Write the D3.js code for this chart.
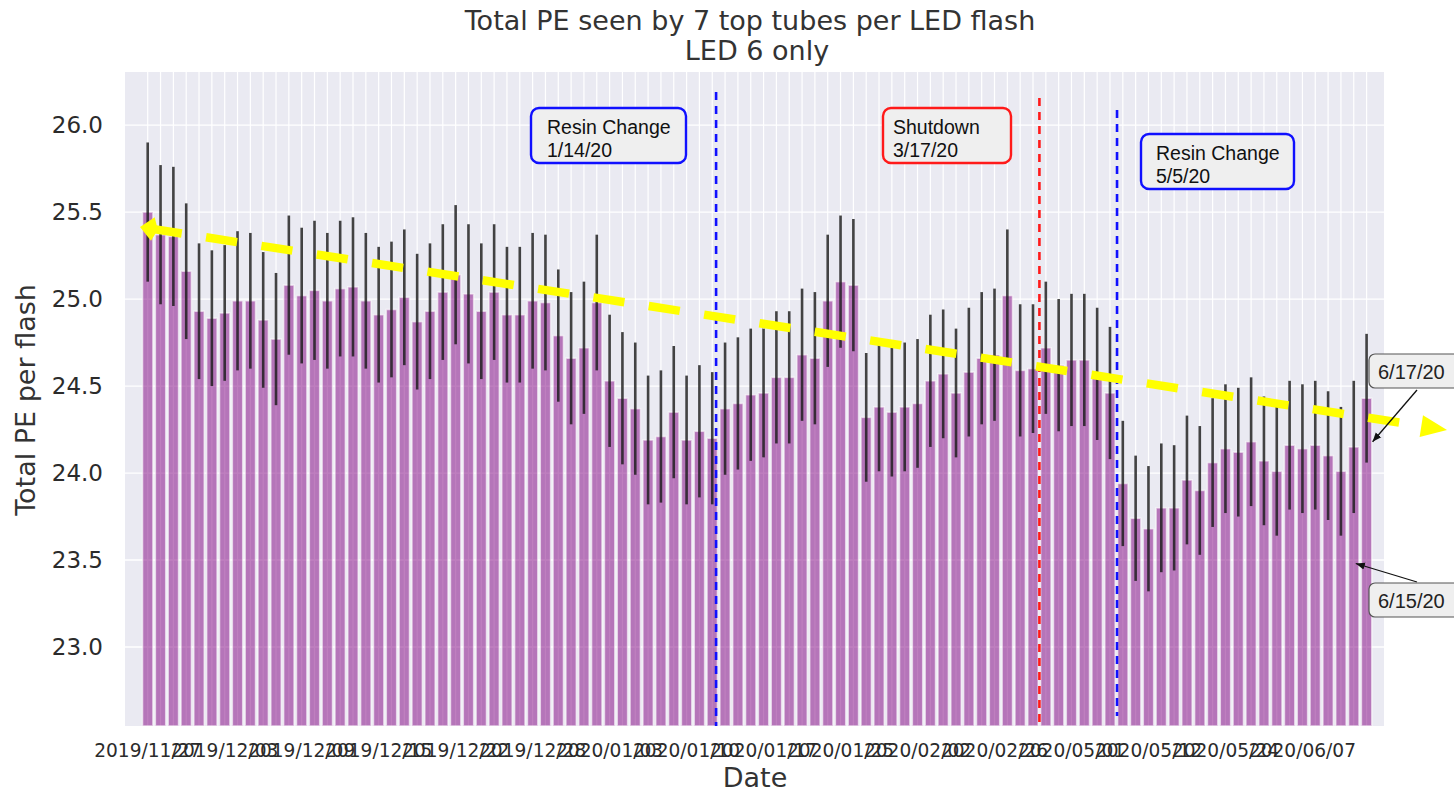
<!DOCTYPE html>
<html><head><meta charset="utf-8">
<script src="https://cdn.jsdelivr.net/npm/d3@7"></script>
<style>body{margin:0;background:#fff;} svg{display:block;}</style>
</head><body>
<svg id="chart" width="1454" height="795"></svg>
<script>
// ---------------- data ----------------
const values = [25.50,25.37,25.36,25.16,24.93,24.89,24.92,24.99,24.99,24.88,
24.77,25.08,25.02,25.05,24.99,25.06,25.07,24.99,24.91,24.94,
25.01,24.87,24.93,25.04,25.14,25.03,24.93,25.04,24.91,24.91,
24.99,24.98,24.79,24.66,24.72,24.98,24.53,24.43,24.37,24.19,
24.21,24.35,24.19,24.24,24.20,24.37,24.40,24.45,24.46,24.55,
24.55,24.68,24.66,24.99,25.10,25.08,24.32,24.38,24.35,24.38,
24.40,24.53,24.57,24.46,24.58,24.66,24.68,25.02,24.59,24.60,
24.72,24.62,24.65,24.65,24.57,24.46,23.94,23.74,23.68,23.80,
23.80,23.96,23.90,24.06,24.14,24.12,24.18,24.07,24.01,24.16,
24.14,24.16,24.10,24.01,24.15,24.43];
const errors = [.40,.40,.40,.39,.39,.39,.39,.40,.39,.39,
.38,.40,.39,.40,.39,.39,.40,.39,.39,.39,
.39,.39,.39,.39,.40,.40,.39,.39,.39,.39,
.39,.39,.38,.38,.38,.39,.38,.38,.38,.37,
.38,.38,.37,.38,.38,.38,.38,.38,.37,.38,
.38,.38,.38,.38,.38,.38,.37,.37,.37,.37,
.37,.38,.37,.37,.37,.38,.38,.38,.38,.37,
.38,.38,.38,.38,.38,.38,.36,.36,.36,.37,
.36,.37,.37,.37,.37,.37,.37,.37,.37,.37,
.37,.37,.37,.37,.38,.37];
const tickIndex = [0,6,12,18,24,30,36,42,48,54,60,66,72,78,84,90];
const tickLabels = ["2019/11/27","2019/12/03","2019/12/09","2019/12/15","2019/12/22","2019/12/28",
"2020/01/03","2020/01/10","2020/01/17","2020/01/25","2020/02/02","2020/02/26",
"2020/05/01","2020/05/12","2020/05/24","2020/06/07"];
const yTicks = [23.0,23.5,24.0,24.5,25.0,25.5,26.0];
const eventNames = ["Resin Change","Shutdown","Resin Change"];
const eventDates = ["1/14/20","3/17/20","5/5/20"];
const eventPos = [44.3,69.5,75.55];
const eventColors = ["#1010ff","#ff1a1a","#1010ff"];
const pointLabels = ["6/17/20","6/15/20"];
const pointBars = [95,94];
const pointValues = [24.18,23.48];

// ---------------- layout ----------------
const W = 1454, H = 795;
const plot = {left:125, right:1384, top:72, bottom:726};
const svg = d3.select("#chart");
const idx = d3.range(values.length);
const x = d3.scaleBand().domain(idx).range([141.3,1373.0]).paddingInner(0).paddingOuter(0);
const step = x.step();
const cx = i => x(i) + step/2;
const y = d3.scaleLinear().domain([22.546,26.305]).range([plot.bottom, plot.top]);
const txt = "#2b2b2b";

// background
svg.append("rect").attr("x",plot.left).attr("y",plot.top)
  .attr("width",plot.right-plot.left).attr("height",plot.bottom-plot.top).attr("fill","#eaeaf2");

// gridlines
const g = svg.append("g");
g.selectAll(".hg").data(yTicks).join("line")
  .attr("x1",plot.left).attr("x2",plot.right)
  .attr("y1",d=>y(d)).attr("y2",d=>y(d)).attr("stroke","#fff").attr("stroke-width",1.3);
g.selectAll(".vg").data(idx).join("line")
  .attr("x1",d=>cx(d)).attr("x2",d=>cx(d))
  .attr("y1",plot.top).attr("y2",plot.bottom).attr("stroke","#fff").attr("stroke-width",1.2);

// bars
const bw = 10.4;
svg.append("g").selectAll("rect").data(idx).join("rect")
  .attr("x",d=>cx(d)-bw/2).attr("width",bw)
  .attr("y",d=>y(values[d])).attr("height",d=>plot.bottom-y(values[d]))
  .attr("fill","purple").attr("fill-opacity",0.5)
  .attr("stroke","#fff").attr("stroke-opacity",0.6).attr("stroke-width",1.6);

// error bars
svg.append("g").selectAll("line").data(idx).join("line")
  .attr("x1",d=>cx(d)).attr("x2",d=>cx(d))
  .attr("y1",d=>y(values[d]+errors[d])).attr("y2",d=>y(values[d]-errors[d]))
  .attr("stroke","#1a1a1a").attr("stroke-opacity",0.82).attr("stroke-width",2.6);

// y axis
const yAxis = d3.axisLeft(y).tickValues(yTicks).tickFormat(d3.format(".1f")).tickSize(0).tickPadding(22);
const ya = svg.append("g").attr("transform",`translate(${plot.left},0)`).call(yAxis);
ya.select(".domain").remove();
ya.selectAll("text").attr("font-family","DejaVu Sans").attr("font-size",23).attr("fill",txt);

// x axis
const xAxis = d3.axisBottom(x).tickValues(tickIndex).tickFormat(d=>tickLabels[tickIndex.indexOf(d)]).tickSize(0).tickPadding(18);
const xa = svg.append("g").attr("transform",`translate(0,${plot.bottom})`).call(xAxis);
xa.select(".domain").remove();
xa.selectAll("text").attr("font-family","DejaVu Sans").attr("font-size",18.6).attr("fill",txt);

// titles
svg.append("text").attr("x",750).attr("y",30).attr("text-anchor","middle")
  .attr("font-family","DejaVu Sans").attr("font-size",27).attr("fill","#333")
  .text("Total PE seen by 7 top tubes per LED flash");
svg.append("text").attr("x",757).attr("y",60).attr("text-anchor","middle")
  .attr("font-family","DejaVu Sans").attr("font-size",27).attr("fill","#333")
  .text("LED 6 only");
svg.append("text").attr("x",755).attr("y",787).attr("text-anchor","middle")
  .attr("font-family","DejaVu Sans").attr("font-size",27).attr("fill","#333").text("Date");
svg.append("text").attr("transform","translate(35,400) rotate(-90)").attr("text-anchor","middle")
  .attr("font-family","DejaVu Sans").attr("font-size",27).attr("fill","#333").text("Total PE per flash");

// event lines
const evX = p => cx(0) + p*step;
const evTop = [92,98,110], evBot = [726,726,716];
svg.append("g").selectAll("line").data(d3.range(3)).join("line")
  .attr("x1",d=>evX(eventPos[d])).attr("x2",d=>evX(eventPos[d]))
  .attr("y1",d=>evTop[d]).attr("y2",d=>evBot[d])
  .attr("stroke",d=>eventColors[d]).attr("stroke-width",2.6).attr("stroke-dasharray","8,6");

// event boxes
const boxes = [{x:531,y:108,w:155,tx:547},{x:883,y:108,w:128,tx:893},{x:1141,y:134,w:153,tx:1156}];
boxes.forEach((b,i)=>{
  svg.append("rect").attr("x",b.x).attr("y",b.y).attr("width",b.w).attr("height",55)
    .attr("rx",8).attr("fill","#efefef").attr("stroke",eventColors[i]).attr("stroke-width",2.4);
  svg.append("text").attr("x",b.tx).attr("y",b.y+26).attr("font-family","Liberation Sans, Arial")
    .attr("font-size",19.5).attr("fill","#111").text(eventNames[i]);
  svg.append("text").attr("x",b.tx).attr("y",b.y+49).attr("font-family","Liberation Sans, Arial")
    .attr("font-size",19.5).attr("fill","#111").text(eventDates[i]);
});

// yellow trend arrow
const ya0 = {x:140,y:227}, ya1 = {x:1447,y:430};
const slope = (ya1.y-ya0.y)/(ya1.x-ya0.x);
const yl = xx => ya0.y + (xx-ya0.x)*slope;
svg.append("line").attr("x1",150.7).attr("y1",yl(150.7)).attr("x2",1422).attr("y2",yl(1422))
  .attr("stroke","#ffff00").attr("stroke-width",8.5).attr("stroke-dasharray","31.4,24.6");
const ang = Math.atan(slope), ca = Math.cos(ang), sa = Math.sin(ang);
function pt(ox,oy,along,perp){return [ox+along*ca - perp*sa, oy+along*sa + perp*ca];}
svg.append("polygon").attr("fill","#ffff00").attr("points",[
  pt(ya0.x,ya0.y,0,0), pt(ya0.x,ya0.y,13,-12), pt(ya0.x,ya0.y,18,0), pt(ya0.x,ya0.y,13,12)
].map(p=>p.join(",")).join(" "));
svg.append("polygon").attr("fill","#ffff00").attr("points",[
  pt(ya1.x,ya1.y,0,0), pt(ya1.x,ya1.y,-26,-11), pt(ya1.x,ya1.y,-26,11)
].map(p=>p.join(",")).join(" "));

// point annotations
const defs = svg.append("defs");
defs.append("marker").attr("id","ah").attr("viewBox","0 0 10 10").attr("refX",10).attr("refY",5)
  .attr("markerWidth",7).attr("markerHeight",7).attr("orient","auto")
  .append("path").attr("d","M0,1 L10,5 L0,9 z").attr("fill","#111");
const pboxes = [{y:354, ax:1417, ay:390, dx:6},{y:583, ax:1417, ay:582, dx:2}];
pboxes.forEach((b,i)=>{
  svg.append("line").attr("x1",b.ax).attr("y1",b.ay)
    .attr("x2",cx(pointBars[i])+b.dx).attr("y2",y(pointValues[i]))
    .attr("stroke","#111").attr("stroke-width",1.3).attr("marker-end","url(#ah)");
  svg.append("rect").attr("x",1369).attr("y",b.y).attr("width",95).attr("height",34).attr("rx",6)
    .attr("fill","#efefef").attr("stroke","#555").attr("stroke-width",1.2);
  svg.append("text").attr("x",1378).attr("y",b.y+25).attr("font-family","Liberation Sans, Arial")
    .attr("font-size",20).attr("fill","#222").text(pointLabels[i]);
});
</script>
</body></html>
